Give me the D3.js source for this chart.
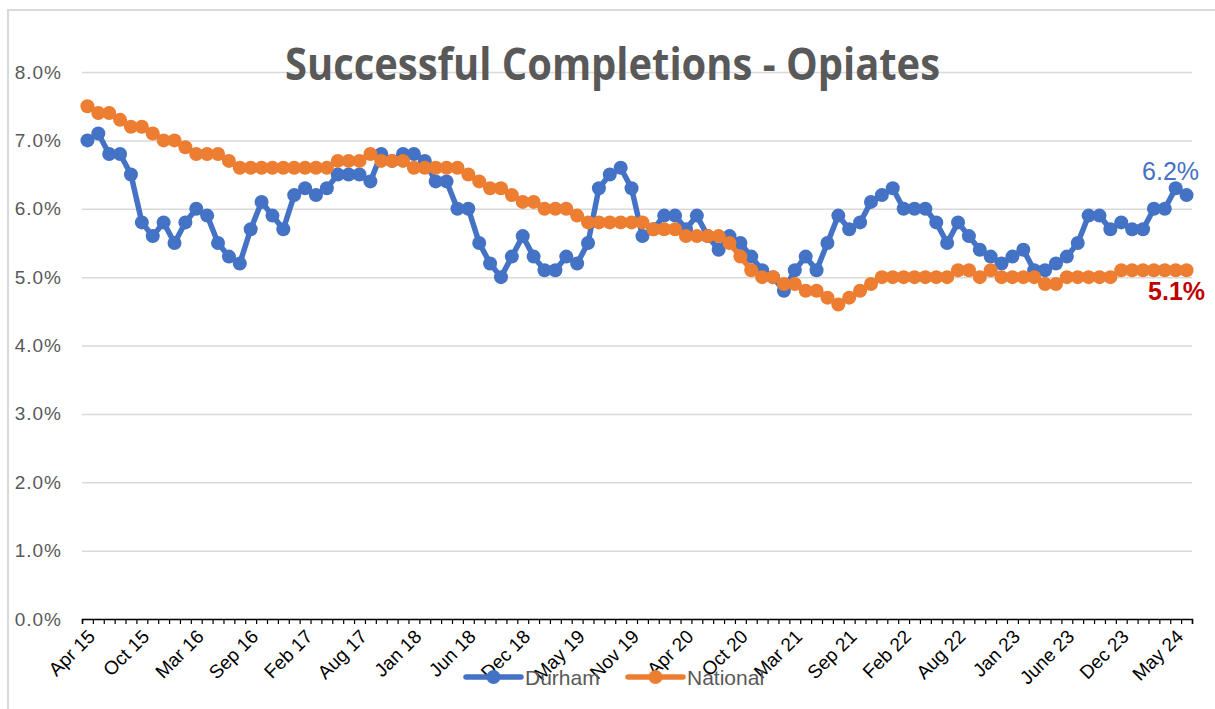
<!DOCTYPE html>
<html>
<head>
<meta charset="utf-8">
<script src="https://cdn.jsdelivr.net/npm/d3@7"></script>
<style>
  body { margin: 0; background: #fff; }
  .y-axis text { font-family: "Liberation Sans", Arial, sans-serif; font-size: 19px; fill: #595959; letter-spacing: 1px; }
  .x-labels text { font-family: "Liberation Sans", Arial, sans-serif; font-size: 19px; fill: #000; }
  .legend text { font-family: "Liberation Sans", Arial, sans-serif; font-size: 21px; fill: #595959; }
</style>
</head>
<body>
<div id="chart"></div>
<script>
// tick labels on the category axis (every 5th point)
var tickLabels = ["Apr 15", "Oct 15", "Mar 16", "Sep 16", "Feb 17", "Aug 17", "Jan 18", "Jun 18",
    "Dec 18", "May 19", "Nov 19", "Apr 20", "Oct 20", "Mar 21", "Sep 21", "Feb 22", "Aug 22",
    "Jan 23", "June 23", "Dec 23", "May 24"];

// percent values
var durham = [7.0, 7.1, 6.8, 6.8, 6.5, 5.8, 5.6, 5.8, 5.5, 5.8,
    6.0, 5.9, 5.5, 5.3, 5.2, 5.7, 6.1, 5.9, 5.7, 6.2,
    6.3, 6.2, 6.3, 6.5, 6.5, 6.5, 6.4, 6.8, 6.7, 6.8,
    6.8, 6.7, 6.4, 6.4, 6.0, 6.0, 5.5, 5.2, 5.0, 5.3,
    5.6, 5.3, 5.1, 5.1, 5.3, 5.2, 5.5, 6.3, 6.5, 6.6,
    6.3, 5.6, 5.7, 5.9, 5.9, 5.7, 5.9, 5.6, 5.4, 5.6,
    5.5, 5.3, 5.1, 5.0, 4.8, 5.1, 5.3, 5.1, 5.5, 5.9,
    5.7, 5.8, 6.1, 6.2, 6.3, 6.0, 6.0, 6.0, 5.8, 5.5,
    5.8, 5.6, 5.4, 5.3, 5.2, 5.3, 5.4, 5.1, 5.1, 5.2,
    5.3, 5.5, 5.9, 5.9, 5.7, 5.8, 5.7, 5.7, 6.0, 6.0,
    6.3, 6.2];

var national = [7.5, 7.4, 7.4, 7.3, 7.2, 7.2, 7.1, 7.0, 7.0, 6.9,
    6.8, 6.8, 6.8, 6.7, 6.6, 6.6, 6.6, 6.6, 6.6, 6.6,
    6.6, 6.6, 6.6, 6.7, 6.7, 6.7, 6.8, 6.7, 6.7, 6.7,
    6.6, 6.6, 6.6, 6.6, 6.6, 6.5, 6.4, 6.3, 6.3, 6.2,
    6.1, 6.1, 6.0, 6.0, 6.0, 5.9, 5.8, 5.8, 5.8, 5.8,
    5.8, 5.8, 5.7, 5.7, 5.7, 5.6, 5.6, 5.6, 5.6, 5.5,
    5.3, 5.1, 5.0, 5.0, 4.9, 4.9, 4.8, 4.8, 4.7, 4.6,
    4.7, 4.8, 4.9, 5.0, 5.0, 5.0, 5.0, 5.0, 5.0, 5.0,
    5.1, 5.1, 5.0, 5.1, 5.0, 5.0, 5.0, 5.0, 4.9, 4.9,
    5.0, 5.0, 5.0, 5.0, 5.0, 5.1, 5.1, 5.1, 5.1, 5.1,
    5.1, 5.1];

var yTicks = [0, 1, 2, 3, 4, 5, 6, 7, 8];

var seriesNames = ["Durham", "National"];
var colors = ["#4472C4", "#ED7D31"];

var width = 1215, height = 709;
var plot = { left: 82, right: 1192, top: 72, bottom: 619 };

var svg = d3.select("#chart").append("svg")
    .attr("width", width)
    .attr("height", height);

// chart area border
svg.append("path")
    .attr("d", "M8,720V10H1220")
    .attr("fill", "none")
    .attr("stroke", "#d9d9d9")
    .attr("stroke-width", 2);

// scales
var x = d3.scaleBand()
    .domain(d3.range(durham.length))
    .range([plot.left, plot.right]);

var xTicks = d3.scaleLinear()
    .domain([0, durham.length])
    .range([plot.left, plot.right]);

var y = d3.scaleLinear()
    .domain([0, 8])
    .range([plot.bottom, plot.top]);

// gridlines + y labels
var yAxis = d3.axisLeft(y)
    .tickValues(yTicks)
    .tickSize(-(plot.right - plot.left))
    .tickPadding(20)
    .tickFormat(function(d) { return d.toFixed(1) + "%"; });

var gy = svg.append("g")
    .attr("class", "y-axis")
    .attr("transform", "translate(" + plot.left + ",0)")
    .call(yAxis);
gy.select(".domain").remove();
gy.selectAll("line").attr("stroke", "#d9d9d9").attr("stroke-width", 1.5);

// category axis: line + a tick at every category boundary
var gx = svg.append("g")
    .attr("transform", "translate(0," + plot.bottom + ")")
    .call(d3.axisBottom(xTicks)
        .tickValues(d3.range(0, durham.length + 1))
        .tickSize(5)
        .tickSizeOuter(5)
        .tickFormat(""));
gx.select(".domain").attr("stroke", "#000").attr("stroke-width", 1.5);
gx.selectAll("line").attr("stroke", "#000").attr("stroke-width", 1.2);

// rotated category labels
var gl = svg.append("g")
    .attr("class", "x-labels")
    .attr("transform", "translate(0," + plot.bottom + ")")
    .call(d3.axisBottom(x)
        .tickValues(d3.range(0, durham.length, 5))
        .tickSize(0)
        .tickFormat(function(i) { return tickLabels[i / 5]; }));
gl.select(".domain").remove();
gl.selectAll("text")
    .attr("x", 0)
    .attr("y", 0)
    .attr("dy", "0.35em")
    .attr("text-anchor", "end")
    .attr("transform", "translate(4,14) rotate(-45)");

// title
svg.append("text")
    .attr("x", 285)
    .attr("y", 80)
    .attr("textLength", 655)
    .attr("lengthAdjust", "spacingAndGlyphs")
    .style("font-family", "'Liberation Sans Narrow', 'Open Sans', sans-serif")
    .style("font-weight", "bold")
    .style("font-size", "44px")
    .style("fill", "#595959")
    .text("Successful Completions - Opiates");

// lines and markers
var cx = function(d, i) { return x(i) + x.bandwidth() / 2; };
var line = d3.line()
    .x(cx)
    .y(function(d) { return y(d); });

[durham, national].forEach(function(series, k) {
    var g = svg.append("g").attr("class", "series");
    g.append("path")
        .datum(series)
        .attr("fill", "none")
        .attr("stroke", colors[k])
        .attr("stroke-width", 5.5)
        .attr("stroke-linejoin", "round")
        .attr("d", line);
    g.selectAll("circle")
        .data(series)
        .enter().append("circle")
        .attr("cx", cx)
        .attr("cy", function(d) { return y(d); })
        .attr("r", 7)
        .attr("fill", colors[k]);
});

// end labels
var last = durham.length - 1;
svg.append("text")
    .attr("x", cx(null, last) - 16)
    .attr("y", y(durham[last]) - 15)
    .attr("text-anchor", "middle")
    .style("font-family", "'Liberation Sans', Arial, sans-serif")
    .style("font-size", "25px")
    .style("fill", "#4472C4")
    .text(durham[last].toFixed(1) + "%");

svg.append("text")
    .attr("x", cx(null, last) - 10)
    .attr("y", y(national[last]) + 30)
    .attr("text-anchor", "middle")
    .style("font-family", "'Liberation Sans', Arial, sans-serif")
    .style("font-size", "25px")
    .style("font-weight", "bold")
    .style("fill", "#C00000")
    .text(national[last].toFixed(1) + "%");

// legend (sits over the axis labels as in the original)
var legendX = [466, 628];
var legend = svg.append("g").attr("class", "legend");
seriesNames.forEach(function(name, k) {
    var lg = legend.append("g").attr("transform", "translate(" + legendX[k] + ",677)");
    lg.append("line")
        .attr("x1", 0).attr("x2", 55)
        .attr("stroke", colors[k])
        .attr("stroke-width", 5.5)
        .attr("stroke-linecap", "round");
    lg.append("circle")
        .attr("cx", 27.5)
        .attr("r", 7)
        .attr("fill", colors[k]);
    lg.append("text")
        .attr("x", 59)
        .attr("dy", "0.36em")
        .text(name);
});
</script>
</body>
</html>
